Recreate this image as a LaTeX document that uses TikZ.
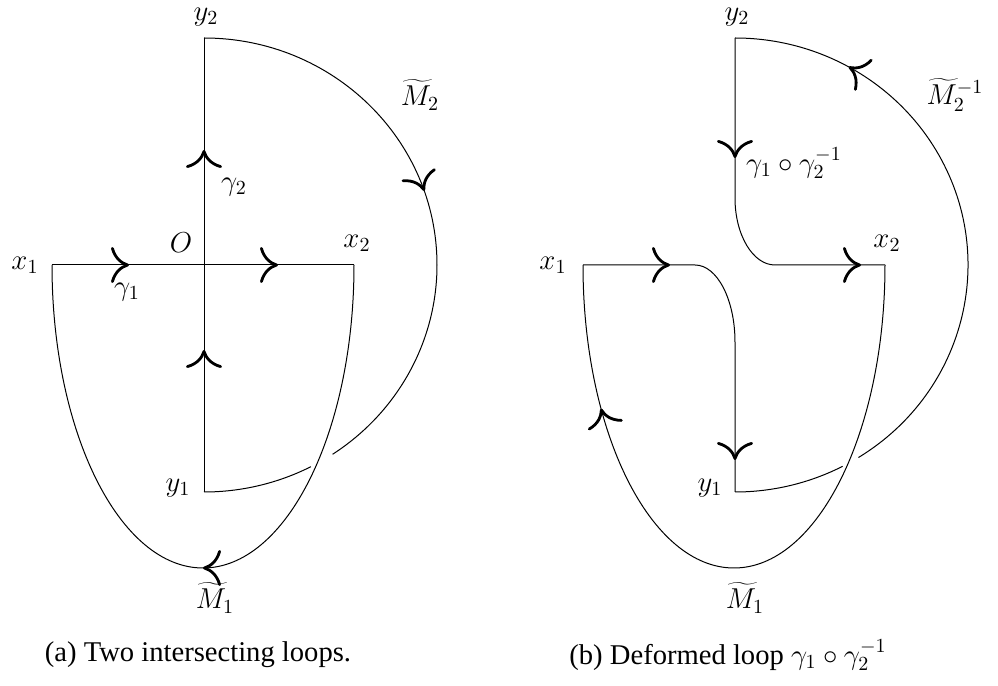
\documentclass[tikz,border=0pt]{standalone}
\usepackage{fontspec}
\setmainfont{Liberation Serif}
\newfontfamily\capfont{Liberation Serif}
\usetikzlibrary{arrows.meta,decorations.markings}
\tikzset{
  ln/.style={line width=0.5pt},
  mk/.style={postaction={decorate,decoration={markings,
      mark=at position #1 with {\arrow{To[length=9pt,width=18pt,line width=1.4pt,round]}}}}},
  lbl/.style={font=\fontsize{14.4}{17}\selectfont, inner sep=0pt},
  captxt/.style={font=\capfont\fontsize{14.3}{16}\selectfont, inner sep=0pt}
}
\begin{document}
\begin{tikzpicture}[x=0.5pt,y=0.5pt]
\useasboundingbox (0,0) rectangle (998,686);
% ---------- (a) ----------
\coordinate (Oa) at (204,421);
\coordinate (x1a) at (52,421);
\coordinate (x2a) at (354,421);
\coordinate (y1a) at (204,194);
\coordinate (y2a) at (204,648);
\draw[ln, mk=38.5pt, mk=113pt] (x1a) -- (x2a);
\draw[ln, mk=71pt, mk=171pt] (y1a) -- (y2a);
% M2 (a), with a gap where M1 passes over
\draw[ln, mk=0.487] (y2a) arc[start angle=90, end angle=-56.5, x radius=116.5pt, y radius=113.5pt];
\draw[ln] (y1a) arc[start angle=-90, end angle=-62.7, x radius=116.5pt, y radius=113.5pt];
% M1 (a)
\draw[ln, mk=0.5] (x2a) arc[start angle=0, end angle=-180, x radius=75.5pt, y radius=151.5pt];
% labels (a)
\node[lbl] (lx1a) at (25,421) {$x_1$};
\node[lbl] (lx2a) at (357,443) {$x_2$};
\node[lbl] (ly2a) at (206,669) {$y_2$};
\node[lbl] (ly1a) at (178,198) {$y_1$};
\node[lbl] (lOa) at (181,443) {$O$};
\node[lbl] (lg1a) at (127,394) {$\gamma_1$};
\node[lbl] (lg2a) at (234,499) {$\gamma_2$};
\node[lbl] (lM2a) at (420,591) {$\widetilde{M}_2$};
\node[lbl] (lM1a) at (215,88) {$\widetilde{M}_1$};
\node[captxt] (capa) at (198,31) {(a) Two intersecting loops.};
% ---------- (b) ----------
\coordinate (Ob) at (735,421);
\coordinate (x1b) at (583,421);
\coordinate (x2b) at (885,421);
\coordinate (y1b) at (735,194);
\coordinate (y2b) at (735,648);
\coordinate (cl) at (695,421);
\coordinate (cu) at (735,488);
\draw[ln, mk=43.5pt, mk=-16pt] (x1b) -- (cl) arc[start angle=90, end angle=0, x radius=20pt, y radius=38.5pt] -- (y1b);
\draw[ln, mk=60pt, mk=-12pt] (y2b) -- (cu) arc[start angle=180, end angle=270, x radius=20pt, y radius=33.5pt] -- (x2b);
% M2^{-1} (b)
\draw[ln] (y1b) arc[start angle=-90, end angle=-62.5, x radius=116.5pt, y radius=113.5pt];
\draw[ln, mk=0.80] ([shift={(-58:116.5pt and 113.5pt)}]Ob) arc[start angle=-58, end angle=90, x radius=116.5pt, y radius=113.5pt];
% M1 (b)
\draw[ln, mk=0.802] (x2b) arc[start angle=0, end angle=-180, x radius=75.5pt, y radius=151.5pt];
% labels (b)
\node[lbl] (lx1b) at (553,421) {$x_1$};
\node[lbl] (lx2b) at (887,443) {$x_2$};
\node[lbl] (ly2b) at (737,669) {$y_2$};
\node[lbl] (ly1b) at (710,198) {$y_1$};
\node[lbl] (lgb) at (794,523) {$\gamma_1\circ\gamma_2^{-1}$};
\node[lbl] (lM2b) at (955,591) {$\widetilde{M}_2^{-1}$};
\node[lbl] (lM1b) at (745,88) {$\widetilde{M}_1$};
\node[captxt] (capb) at (728,31) {(b) Deformed loop $\gamma_1\circ\gamma_2^{-1}$};
\end{tikzpicture}
\end{document}
